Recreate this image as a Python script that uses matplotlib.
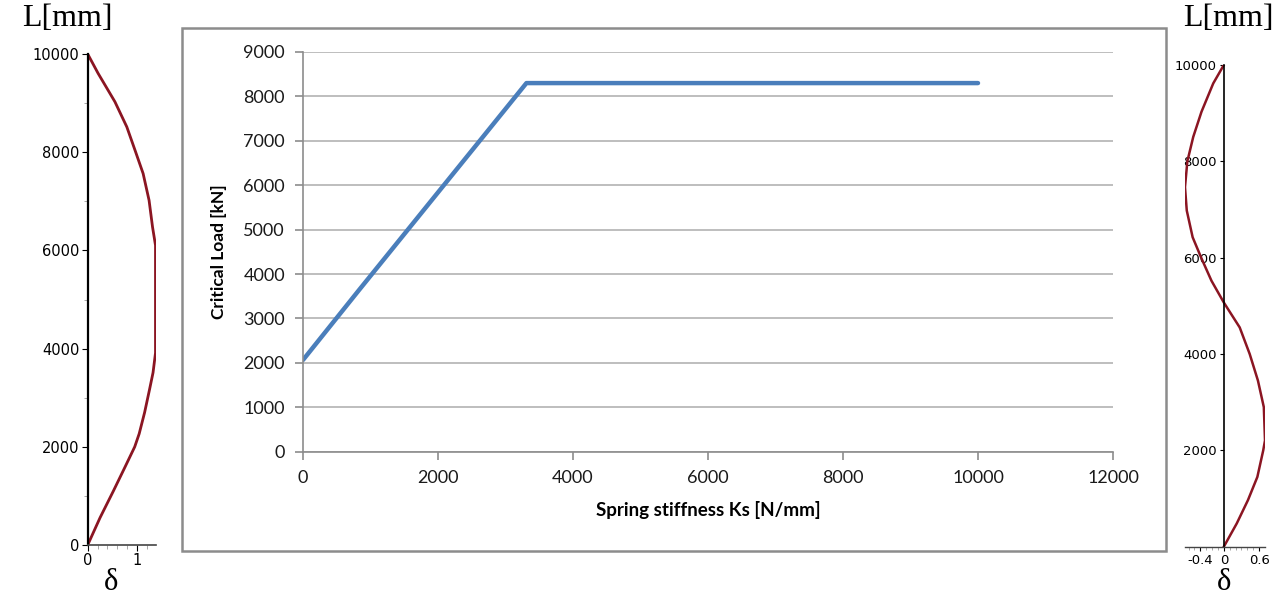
import matplotlib.pyplot as plt
from matplotlib.patches import Rectangle

# main chart data (Excel style)
ks = [0, 830, 3310, 10000]
crit_load = [2065, 3640, 8300, 8300]

# left mode shape (first buckling mode)
left_L = [0, 557, 1102, 1580, 2000, 2265, 2700, 3170, 3510, 3912, 6102, 6476, 7020, 7565, 8000, 8516, 9027, 9606, 10000]
left_d = [0, 0.25, 0.52, 0.75, 0.95, 1.04, 1.15, 1.25, 1.32, 1.37, 1.37, 1.31, 1.24, 1.12, 0.97, 0.79, 0.55, 0.21, 0]

# right mode shape (second buckling mode)
right_L = [0, 483, 966, 1448, 2000, 2207, 2897, 3448, 4000, 4552, 5069, 5521, 5986, 6424, 6979, 7465, 8000, 8507, 9028, 9618, 10000]
right_d = [0, 0.22, 0.41, 0.57, 0.67, 0.70, 0.68, 0.58, 0.44, 0.27, 0, -0.21, -0.38, -0.53, -0.63, -0.66, -0.62, -0.52, -0.38, -0.18, 0]

W, H = 1282, 598
fig = plt.figure(figsize=(W / 100, H / 100), dpi=100)

def box(l, t, r, b):
    return [l / W, 1 - b / H, (r - l) / W, (b - t) / H]

# frame round the excel chart
fig.patches.append(Rectangle((182 / W, 1 - 551 / H), (1166 - 182) / W, (551 - 28) / H,
                             transform=fig.transFigure, fill=False, edgecolor='#8c8c8c', linewidth=1.8))

grey = '#8c8c8c'
ax = fig.add_axes(box(303, 52, 1113, 451.7))
ax.plot(ks, crit_load, color='#4a7ebb', linewidth=3.2, solid_capstyle='round')
ax.set_xlim(0, 12000)
ax.set_ylim(0, 9000)
ax.set_xticks(range(0, 12001, 2000))
ax.set_yticks(range(0, 9001, 1000))
ax.yaxis.grid(True, color='#b3b3b3', linewidth=1.2)
ax.set_axisbelow(True)
for s in ['top', 'right']:
    ax.spines[s].set_visible(False)
for s in ['left', 'bottom']:
    ax.spines[s].set_color(grey)
    ax.spines[s].set_linewidth(1.2)
ax.tick_params(axis='both', direction='out', length=6, color=grey, width=1.2,
               labelsize=13, labelcolor='#1a1a1a', pad=7)
for lab in ax.get_xticklabels() + ax.get_yticklabels():
    lab.set_family('Lato')
ax.set_xlabel('Spring stiffness Ks [N/mm]', family='Lato', fontweight='bold', fontsize=13.5, labelpad=11)
ax.set_ylabel('Critical Load [kN]', family='Lato', fontweight='bold', fontsize=12.5, labelpad=12)

red = '#8b1522'

# left mode shape
axl = fig.add_axes(box(87.7, 54, 156, 545))
axl.plot(left_d, left_L, color=red, linewidth=2)
axl.set_xlim(0, 1.38)
axl.set_ylim(0, 10000)
axl.set_yticks(range(0, 10001, 2000))
axl.set_yticks(range(1000, 10000, 2000), minor=True)
axl.set_xticks([0, 1])
axl.set_xticks([0.2, 0.4, 0.6, 0.8, 1.2], minor=True)
for s in ['top', 'right']:
    axl.spines[s].set_visible(False)
axl.spines['left'].set_linewidth(1.6)
axl.spines['bottom'].set_linewidth(1.2)
axl.spines['bottom'].set_color('#444444')
axl.tick_params(which='major', length=4, labelsize=10.5, pad=2)
axl.tick_params(which='minor', length=3, color='#999999')
fig.text(67 / W, 1 - 18 / H, 'L[mm]', family='Liberation Serif', fontsize=23, ha='center', va='center')
fig.text(111 / W, 1 - 583 / H, 'δ', family='Liberation Serif', fontsize=22, ha='center', va='center')

# right mode shape
axr = fig.add_axes(box(1185, 65, 1265, 546.7))
axr.plot(right_d, right_L, color=red, linewidth=1.8)
axr.set_xlim(-0.66, 0.70)
axr.set_ylim(0, 10000)
axr.spines['left'].set_position(('data', 0))
for s in ['top', 'right']:
    axr.spines[s].set_visible(False)
axr.spines['left'].set_linewidth(1.2)
axr.spines['bottom'].set_linewidth(1.0)
axr.spines['bottom'].set_color('#444444')
axr.set_yticks(range(2000, 10001, 2000))
axr.set_xticks([-0.4, 0, 0.6])
axr.set_xticklabels(['-0.4', '0', '0.6'])
axr.set_xticks([-0.6, -0.5, -0.3, -0.2, -0.1, 0.1, 0.2, 0.3, 0.4, 0.5], minor=True)
axr.tick_params(which='major', length=3, labelsize=9.5, pad=2)
axr.tick_params(which='minor', length=2.5, color='#999999')
fig.text(1228 / W, 1 - 18 / H, 'L[mm]', family='Liberation Serif', fontsize=23, ha='center', va='center')
fig.text(1224 / W, 1 - 583 / H, 'δ', family='Liberation Serif', fontsize=22, ha='center', va='center')

fig.savefig('out.png', dpi=100)
